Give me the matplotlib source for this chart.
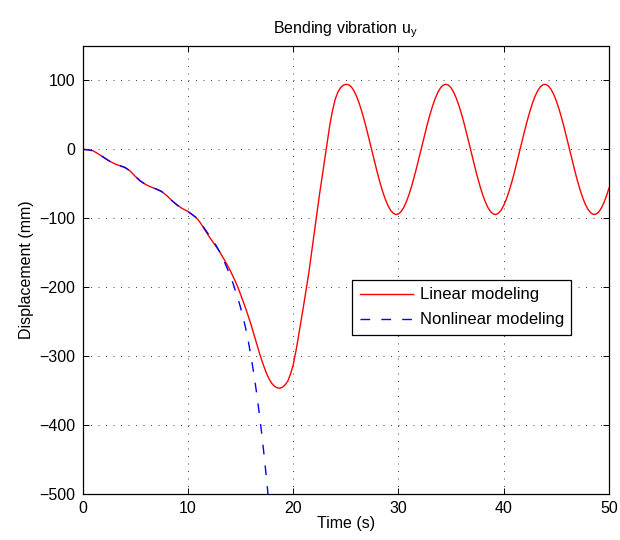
import matplotlib

matplotlib.use("Agg")
import matplotlib.pyplot as plt

# time samples (s) and displacement (mm)
time_linear = [
	0.0, 0.5, 1.0, 1.5, 2.0, 2.5, 3.0, 3.5, 4.0, 4.5,
	5.0, 5.5, 6.0, 6.5, 7.0, 7.5, 8.0, 8.5, 9.0, 9.5,
	10.0, 10.5, 10.75, 11.0, 11.25, 11.5, 11.75, 12.0, 12.25, 12.5,
	12.75, 13.0, 13.25, 13.5, 13.75, 14.0, 14.25, 14.5, 14.75, 15.0,
	15.25, 15.5, 15.75, 16.0, 16.25, 16.5, 16.75, 17.0, 17.25, 17.5,
	17.75, 18.0, 18.25, 18.5, 18.75, 19.0, 19.25, 19.5, 19.75, 20.0,
	20.25, 20.5, 20.75, 21.0, 21.25, 21.5, 21.75, 22.0, 22.25, 22.5,
	22.75, 23.0, 23.25, 23.5, 23.75, 24.0, 24.25, 24.5, 24.75, 25.0,
	25.25, 25.5, 25.75, 26.0, 26.25, 26.5, 26.75, 27.0, 27.25, 27.5,
	27.75, 28.0, 28.25, 28.5, 28.75, 29.0, 29.25, 29.5, 29.75, 30.0,
	30.25, 30.5, 30.75, 31.0, 31.25, 31.5, 31.75, 32.0, 32.25, 32.5,
	32.75, 33.0, 33.25, 33.5, 33.75, 34.0, 34.25, 34.5, 34.75, 35.0,
	35.25, 35.5, 35.75, 36.0, 36.25, 36.5, 36.75, 37.0, 37.25, 37.5,
	37.75, 38.0, 38.25, 38.5, 38.75, 39.0, 39.25, 39.5, 39.75, 40.0,
	40.25, 40.5, 40.75, 41.0, 41.25, 41.5, 41.75, 42.0, 42.25, 42.5,
	42.75, 43.0, 43.25, 43.5, 43.75, 44.0, 44.25, 44.5, 44.75, 45.0,
	45.25, 45.5, 45.75, 46.0, 46.25, 46.5, 46.75, 47.0, 47.25, 47.5,
	47.75, 48.0, 48.25, 48.5, 48.75, 49.0, 49.25, 49.5, 49.75, 50.0,
]
disp_linear = [
	0.0, -0.5, -2.0, -6.5, -11.5, -16.5, -20.5, -23.5, -26.0, -31.0,
	-39.0, -46.0, -51.0, -54.5, -57.5, -61.0, -67.0, -74.5, -81.0, -86.0,
	-90.0, -95.5, -98.5, -102.5, -108.0, -114.0, -120.0, -126.0, -131.5, -137.0,
	-142.5, -148.0, -154.5, -161.0, -168.0, -175.0, -183.0, -191.0, -200.0, -210.0,
	-220.5, -231.0, -242.5, -254.0, -267.0, -280.0, -293.0, -305.0, -316.0, -326.0,
	-334.0, -340.0, -344.0, -346.0, -346.5, -345.0, -341.5, -336.0, -326.0, -313.0,
	-294.0, -272.0, -249.0, -226.0, -202.0, -178.0, -150.0, -121.0, -93.0, -66.0,
	-40.0, -14.0, 12.0, 37.0, 57.0, 73.0, 83.0, 89.5, 93.0, 94.3,
	94.0, 91.2, 85.7, 77.9, 67.9, 56.0, 42.6, 28.0, 12.6, -3.2,
	-18.8, -34.0, -48.2, -61.0, -72.2, -81.3, -88.2, -92.6, -94.5, -93.7,
	-90.3, -84.4, -76.1, -65.7, -53.5, -39.8, -25.0, -9.5, 6.3, 21.9,
	36.9, 50.9, 63.4, 74.1, 82.9, 89.3, 93.2, 94.5, 93.2, 89.3,
	82.9, 74.1, 63.4, 50.9, 36.9, 21.9, 6.3, -9.5, -25.0, -39.8,
	-53.5, -65.7, -76.1, -84.4, -90.3, -93.7, -94.5, -92.6, -88.2, -81.3,
	-72.2, -61.0, -48.2, -34.0, -18.8, -3.2, 12.6, 28.0, 42.6, 56.0,
	67.9, 77.9, 85.7, 91.2, 94.0, 94.3, 91.9, 87.0, 79.7, 70.1,
	58.6, 45.4, 31.0, 15.7, 0.0, -15.7, -31.0, -45.4, -58.6, -70.1,
	-79.7, -87.0, -91.9, -94.3, -94.0, -91.2, -85.7, -77.9, -67.9, -56.0,
]

time_nonlinear = [
	0.0, 0.5, 1.0, 1.5, 2.0, 2.5, 3.0, 3.5, 4.0, 4.5,
	5.0, 5.5, 6.0, 6.5, 7.0, 7.5, 8.0, 8.5, 9.0, 9.5,
	10.0, 10.5, 10.75, 11.0, 11.25, 11.5, 11.75, 12.0, 12.25, 12.5,
	12.75, 13.0, 13.25, 13.5, 13.75, 14.0, 14.25, 14.5, 14.75, 15.0,
	15.25, 15.5, 15.75, 16.0, 16.25, 16.5, 16.75, 17.0, 17.25, 17.5,
	17.7,
]
disp_nonlinear = [
	0.0, -0.5, -2.0, -6.5, -11.5, -16.5, -20.5, -23.5, -26.0, -31.0,
	-39.0, -46.0, -51.0, -54.5, -57.5, -61.0, -67.0, -74.5, -81.0, -86.0,
	-90.0, -95.5, -98.5, -102.5, -107.5, -113.0, -118.5, -124.0, -129.5, -135.0,
	-141.0, -148.0, -155.5, -164.0, -173.0, -182.0, -192.5, -204.0, -216.0, -229.0,
	-244.0, -260.0, -279.0, -300.0, -324.0, -350.0, -379.0, -410.0, -445.0, -482.0,
	-515.0,
]

x_ticks = [0, 10, 20, 30, 40, 50]
y_ticks = [-500, -400, -300, -200, -100, 0, 100]


def main() -> None:
	plt.rcParams["font.family"] = ["Liberation Sans", "DejaVu Sans"]
	plt.rcParams["mathtext.fontset"] = "custom"
	plt.rcParams["mathtext.rm"] = "Liberation Sans"
	plt.rcParams["font.size"] = 11.5

	fig = plt.figure(figsize=(6.2, 5.4), dpi=100)
	ax = fig.add_axes([0.1331, 0.0852, 0.8492, 0.8296])

	ax.plot(time_linear, disp_linear, color="red", linewidth=1.0, label="Linear modeling")
	ax.plot(
		time_nonlinear,
		disp_nonlinear,
		color="blue",
		linewidth=1.0,
		linestyle=(0, (7, 8)),
		label="Nonlinear modeling",
	)

	ax.set_xlim(0, 50)
	ax.set_ylim(-500, 150)
	ax.set_xticks(x_ticks)
	ax.set_yticks(y_ticks)
	ax.tick_params(direction="in", length=4, width=0.7, top=True, right=True, pad=5)
	ax.grid(True, color="0.15", linewidth=0.6, linestyle=(0, (1.2, 7.8)))
	for spine in ax.spines.values():
		spine.set_linewidth(0.9)

	ax.set_title(r"Bending vibration u$_{\mathrm{y}}$", fontsize=11.5, pad=9)
	ax.set_xlabel("Time (s)", labelpad=0)
	ax.set_ylabel("Displacement (mm)", labelpad=4)

	legend = ax.legend(
		loc="upper left",
		bbox_to_anchor=(0.512, 0.478),
		borderaxespad=0,
		fontsize=12,
		fancybox=False,
		framealpha=1,
		edgecolor="black",
		handlelength=3.2,
		handletextpad=0.4,
		labelspacing=0.6,
		borderpad=0.45,
	)
	legend.get_frame().set_linewidth(0.9)

	fig.savefig("out.png", dpi=100)


if __name__ == "__main__":
	main()
